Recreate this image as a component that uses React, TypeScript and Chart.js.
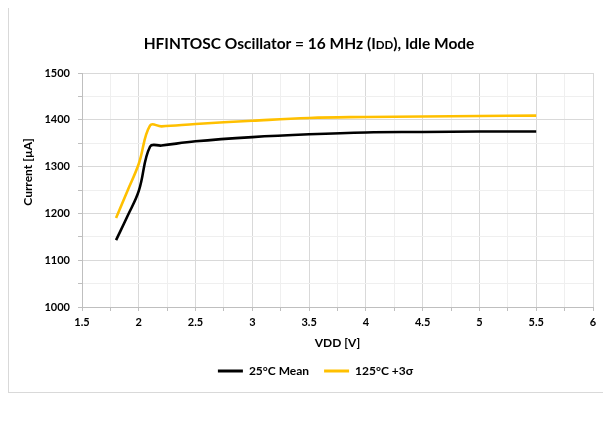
import { useEffect, useRef } from "react";
import { Chart, registerables } from "chart.js";

Chart.register(...registerables);

// ---- data ----
const vdd = [1.8, 1.9, 2.0, 2.1, 2.2, 2.5, 3.0, 3.5, 4.0, 4.5, 5.0, 5.5];
const mean25 = [1143, 1194, 1248, 1343, 1345, 1354, 1363, 1369, 1373, 1374, 1375, 1375];
const sigma125 = [1190, 1248, 1306, 1388, 1386, 1391, 1398, 1404, 1406, 1407, 1408, 1409];
const seriesNames = ["25°C Mean", "125°C +3σ"];
const seriesColors = ["#000000", "#FFC000"];
const titleParts = ["HFINTOSC Oscillator = 16 MHz (I", "DD", "), Idle Mode"];
const yTitle = "Current [µA]";
const xTitle = "VDD [V]";
const xRange = [1.5, 6];
const yRange = [1000, 1500];

const FONT = "Lato, 'DejaVu Sans', sans-serif";

const isMajor = (v: number, step: number) =>
  Math.abs(v / step - Math.round(v / step)) < 1e-6;

const textPlugin = {
  id: "customTexts",
  afterDraw(chart: any) {
    const ctx = chart.ctx as CanvasRenderingContext2D;
    ctx.save();
    ctx.fillStyle = "#000";
    ctx.textBaseline = "middle";
    ctx.textAlign = "left";
    const big = `bold 15.5px ${FONT}`;
    const small = `bold 11.5px ${FONT}`;
    const fonts = [big, small, big];
    const widths = titleParts.map((t, i) => {
      ctx.font = fonts[i];
      return ctx.measureText(t).width;
    });
    const total = widths.reduce((a, b) => a + b, 0);
    let x = 301 - total / 2;
    titleParts.forEach((t, i) => {
      ctx.font = fonts[i];
      ctx.fillText(t, x, i === 1 ? 37 : 36);
      x += widths[i];
    });
    ctx.translate(20, 164);
    ctx.rotate(-Math.PI / 2);
    ctx.textAlign = "center";
    ctx.font = `bold 12px ${FONT}`;
    ctx.fillText(yTitle, 0, 0);
    ctx.restore();
  },
};

export default function App() {
  const canvasRef = useRef<HTMLCanvasElement>(null);

  useEffect(() => {
    document.body.style.overflow = "hidden";
    const canvas = canvasRef.current!;
    const toPoints = (ys: number[]) => vdd.map((x, i) => ({ x, y: ys[i] }));
    const tickFont = { family: FONT, weight: "bold" as const, size: 11 };
    const chart = new Chart(canvas, {
      type: "line",
      data: {
        datasets: [mean25, sigma125].map((ys, i) => ({
          label: seriesNames[i],
          data: toPoints(ys),
          borderColor: seriesColors[i],
          backgroundColor: seriesColors[i],
          borderWidth: 2.6,
          pointRadius: 0,
          tension: 0.4,
          fill: false,
        })),
      },
      options: {
        responsive: false,
        animation: false,
        devicePixelRatio: 1,
        layout: { padding: { left: 30, right: 18, top: 65, bottom: 5 } },
        plugins: {
          title: { display: false },
          tooltip: { enabled: false },
          legend: {
            position: "bottom",
            labels: {
              boxWidth: 25,
              boxHeight: 3,
              padding: 15,
              color: "#000",
              font: { family: FONT, weight: "bold", size: 12 },
              generateLabels: (c: any) =>
                (Chart.defaults.plugins.legend.labels as any)
                  .generateLabels(c)
                  .map((l: any) => ({ ...l, lineWidth: 0 })),
            },
          },
        },
        scales: {
          x: {
            type: "linear",
            min: xRange[0],
            max: xRange[1],
            ticks: {
              stepSize: 0.25,
              autoSkip: false,
              maxRotation: 0,
              padding: 5,
              color: "#000",
              font: tickFont,
              callback: (v: any) => (isMajor(Number(v), 0.5) ? String(Number(v)) : ""),
            },
            grid: {
              color: (c: any) =>
                c.tick && isMajor(c.tick.value, 0.5) ? "#d9d9d9" : "#efefef",
              tickLength: 4,
              tickColor: "#bfbfbf",
            },
            border: { color: "#bfbfbf" },
            title: {
              display: true,
              text: xTitle,
              color: "#000",
              font: { family: FONT, weight: "bold", size: 12 },
              padding: { top: 0, bottom: 0 },
            },
            afterFit: (s: any) => {
              s.height = 43;
            },
          },
          y: {
            type: "linear",
            min: yRange[0],
            max: yRange[1],
            ticks: {
              stepSize: 50,
              autoSkip: false,
              padding: 8,
              color: "#000",
              font: tickFont,
              callback: (v: any) => (isMajor(Number(v), 100) ? String(v) : ""),
            },
            grid: {
              color: (c: any) =>
                c.tick && isMajor(c.tick.value, 100) ? "#d9d9d9" : "#efefef",
              tickLength: 4,
              tickColor: "#bfbfbf",
            },
            border: { color: "#bfbfbf" },
            afterFit: (s: any) => {
              s.width = 44;
            },
          },
        },
      },
      plugins: [textPlugin],
    });
    return () => chart.destroy();
  }, []);

  return (
    <div style={{ position: "relative", width: 603, height: 385, overflow: "hidden" }}>
      <div
        style={{
          position: "absolute",
          left: 0,
          top: -3,
          width: 700,
          height: 388,
          border: "1px solid #d9d9d9",
          boxSizing: "border-box",
        }}
      />
      <canvas
        ref={canvasRef}
        width={603}
        height={384}
        style={{ position: "absolute", left: 0, top: 0, width: 603, height: 384 }}
      />
    </div>
  );
}
